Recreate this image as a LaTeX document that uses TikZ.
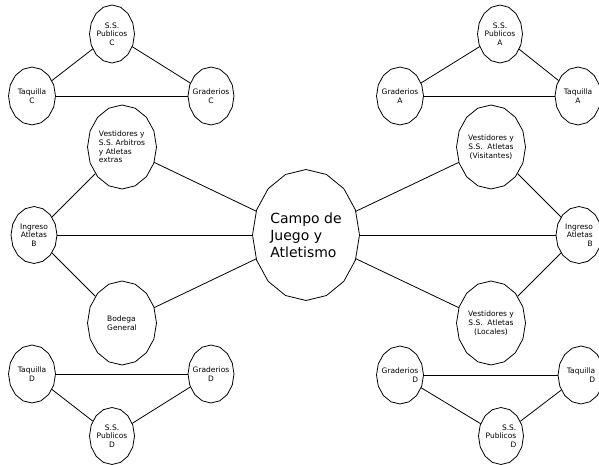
\documentclass[tikz,border=0pt]{standalone}
\usepackage{fontspec}
\setmainfont{DejaVu Sans}
\usetikzlibrary{shapes.geometric}
\tikzset{
  poly/.style={draw=none, ellipse, inner sep=0pt, outer sep=0pt},
  conn/.style={line width=0.8pt},
  small/.style={font=\fontsize{7.5}{8.7}\selectfont},
}
\newcommand{\polynode}[7][align=center]{%
  \node[poly, minimum width=#5pt, minimum height=#6pt,
        label={[small, inner sep=0pt, #1]center:#7}] (#2) at (#3,#4) {};
  \draw[line width=0.8pt, shift={(#3,#4)}] plot[domain=0:337.5, samples=16]
        ({#5/2*cos(\x)},{#6/2*sin(\x)}) -- cycle;
}
\begin{document}
\begin{tikzpicture}[x=1pt,y=-1pt]
\useasboundingbox[fill=white] (0,0) rectangle (599,464);
% top left group
\polynode{sspc}{112}{34}{45}{58}{S.S.\\Publicos\\C}
\polynode{taqc}{32}{96}{47}{58}{Taquilla\\C}
\polynode{gradc}{211}{96}{46}{58}{Graderios\\C}
% top right group
\polynode{sspa}{500}{34}{45}{58}{S.S.\\Publicos\\A}
\polynode{grada}{400}{96}{47}{58}{Graderios\\A}
\polynode{taqa}{578}{96}{46}{58}{Taquilla\\A}
% middle
\polynode[align=left]{vestl}{122}{147}{69}{84}{Vestidores y\\S.S. Arbitros\\y Atletas\\extras}
\polynode{ingl}{34}{235}{46}{57}{Ingreso\\Atletas\\B}
\polynode[align=left]{bodega}{122}{323}{69}{84}{Bodega\\General}
\polynode[align=left, font=\fontsize{14}{17}\selectfont]{campo}{306}{235}{107}{131}{Campo de\\Juego y\\Atletismo}
\polynode{vestr}{491}{147}{69}{84}{Vestidores y\\S.S.\ \ Atletas\\(Visitantes)}
\polynode[align=right]{ingr}{579}{235}{46}{57}{Ingreso\\Atletas\\B}
\polynode{locales}{491}{323}{69}{84}{Vestidores y\\S.S.\ \ Atletas\\(Locales)}
% bottom left group
\polynode{taqdl}{32}{374}{47}{58}{Taquilla\\D}
\polynode{graddl}{211}{374}{46}{58}{Graderios\\D}
\polynode{sspdl}{112}{436}{45}{57}{S.S.\\Publicos\\D}
% bottom right group
\polynode[align=right]{graddr}{400}{375}{47}{58}{Graderios\\D}
\polynode[align=right]{taqdr}{581}{375}{46}{58}{Taquilla\\D}
\polynode[align=right]{sspdr}{501}{436}{45}{57}{S.S.\\Publicos\\D}
% connectors
\draw[conn] (sspc) -- (taqc);
\draw[conn] (sspc) -- (gradc);
\draw[conn] (taqc) -- (gradc);
\draw[conn] (sspa) -- (grada);
\draw[conn] (sspa) -- (taqa);
\draw[conn] (grada) -- (taqa);
\draw[conn] (vestl) -- (campo);
\draw[conn] (vestl) -- (ingl);
\draw[conn] (ingl) -- (campo);
\draw[conn] (ingl) -- (bodega);
\draw[conn] (bodega) -- (campo);
\draw[conn] (vestr) -- (campo);
\draw[conn] (vestr) -- (ingr);
\draw[conn] (ingr) -- (campo);
\draw[conn] (ingr) -- (locales);
\draw[conn] (locales) -- (campo);
\draw[conn] (taqdl) -- (graddl);
\draw[conn] (taqdl) -- (sspdl);
\draw[conn] (graddl) -- (sspdl);
\draw[conn] (graddr) -- (taqdr);
\draw[conn] (graddr) -- (sspdr);
\draw[conn] (taqdr) -- (sspdr);
\end{tikzpicture}
\end{document}
